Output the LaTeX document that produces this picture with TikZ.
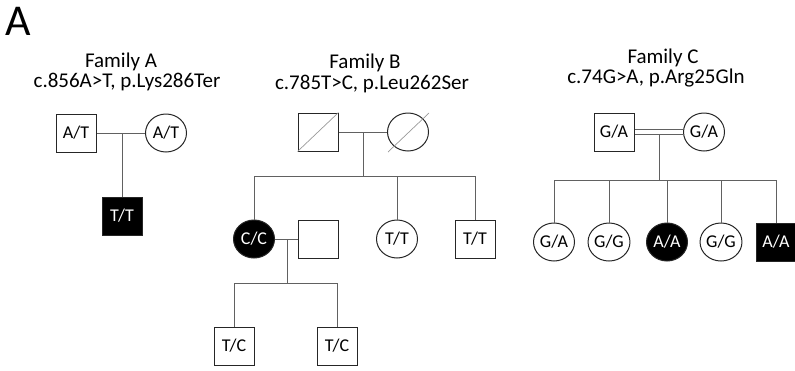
\documentclass[tikz,border=0pt]{standalone}
\usepackage{fontspec}
\setmainfont{Carlito}
\usetikzlibrary{shapes.geometric}
\begin{document}
\begin{tikzpicture}[x=1pt,y=-1pt,
  ind/.style={draw=black!85, line width=1pt, inner sep=0pt, font=\fontsize{18}{18}\selectfont},
  male/.style={ind, rectangle, minimum width=40pt, minimum height=38pt},
  female/.style={ind, ellipse, minimum width=41pt, minimum height=38pt},
  aff/.style={fill=black, text=white},
  link/.style={draw=black!62, line width=0.8pt},
  dec/.style={draw=black!40, line width=0.7pt},
  title/.style={font=\fontsize{21}{21}\selectfont, anchor=base, inner sep=0pt}]
\useasboundingbox (0,0) rectangle (795,370);
\node[anchor=base west, inner sep=0pt, font=\fontsize{44}{44}\selectfont] (lab) at (5,35) {A};

% ---------- Family A ----------
\node[title] (ta1) at (121,67) {Family A};
\node[title] (ta2) at (127,87) {c.856A>T, p.Lys286Ter};
\node[male] (af) at (76,133) {A/T};
\node[female] (am) at (166,133) {A/T};
\node[male, aff] (ac) at (122,216) {T/T};
\coordinate (ajn) at (122,133);
\draw[link] (af.east) -- (am.west);
\draw[link] (ajn) -- (ac.north);

% ---------- Family B ----------
\node[title] (tb1) at (365,68) {Family B};
\node[title] (tb2) at (372,89) {c.785T>C, p.Leu262Ser};
\node[male] (bf) at (318,132) {};
\node[female] (bm) at (408,132) {};
\draw[dec] (bf.south west) -- (bf.north east);
\draw[dec] ([shift={(-20,20)}]bm.center) -- ([shift={(21,-19)}]bm.center);
\coordinate (bjn) at (363,132);
\coordinate (bsib) at (363,176);
\coordinate (bs1) at (254,176);
\coordinate (bs2) at (397,176);
\coordinate (bs3) at (475,176);
\draw[link] (bf.east) -- (bm.west);
\draw[link] (bjn) -- (bsib);
\draw[link] (bs1) -- (bs3);
\node[female, aff] (b1) at (254,239) {C/C};
\node[male] (b1p) at (318,239) {};
\node[female] (b2) at (397,239) {T/T};
\node[male] (b3) at (475,239) {T/T};
\draw[link] (bs1) -- (b1.north);
\draw[link] (bs2) -- (b2.north);
\draw[link] (bs3) -- (b3.north);
\draw[link] (b1.east) -- (b1p.west);
\coordinate (b1jn) at (287,239);
\coordinate (b1sib) at (287,283);
\coordinate (bg1) at (234,283);
\coordinate (bg2) at (337,283);
\draw[link] (b1jn) -- (b1sib);
\draw[link] (bg1) -- (bg2);
\node[male] (b4) at (234,346) {T/C};
\node[male] (b5) at (337,346) {T/C};
\draw[link] (bg1) -- (b4.north);
\draw[link] (bg2) -- (b5.north);

% ---------- Family C ----------
\node[title] (tc1) at (663,63) {Family C};
\node[title] (tc2) at (656,83) {c.74G>A, p.Arg25Gln};
\node[male] (cf) at (614,132) {G/A};
\node[female] (cm) at (704,132) {G/A};
\draw[link] ([yshift=2.5pt]cf.east) -- ([yshift=2.5pt]cm.west);
\draw[link] ([yshift=-2.5pt]cf.east) -- ([yshift=-2.5pt]cm.west);
\coordinate (cjn) at (659,134.5);
\coordinate (csib) at (659,180);
\coordinate (cs1) at (554,180);
\coordinate (cs2) at (609,180);
\coordinate (cs3) at (667,180);
\coordinate (cs4) at (721,180);
\coordinate (cs5) at (776,180);
\draw[link] (cjn) -- (csib);
\draw[link] (cs1) -- (cs5);
\node[female] (c1) at (554,242) {G/A};
\node[female] (c2) at (609,242) {G/G};
\node[female, aff] (c3) at (667,242) {A/A};
\node[female] (c4) at (721,242) {G/G};
\node[male, aff] (c5) at (776,242) {A/A};
\foreach \i in {1,...,5} {\draw[link] (cs\i) -- (c\i.north);}
\end{tikzpicture}
\end{document}
